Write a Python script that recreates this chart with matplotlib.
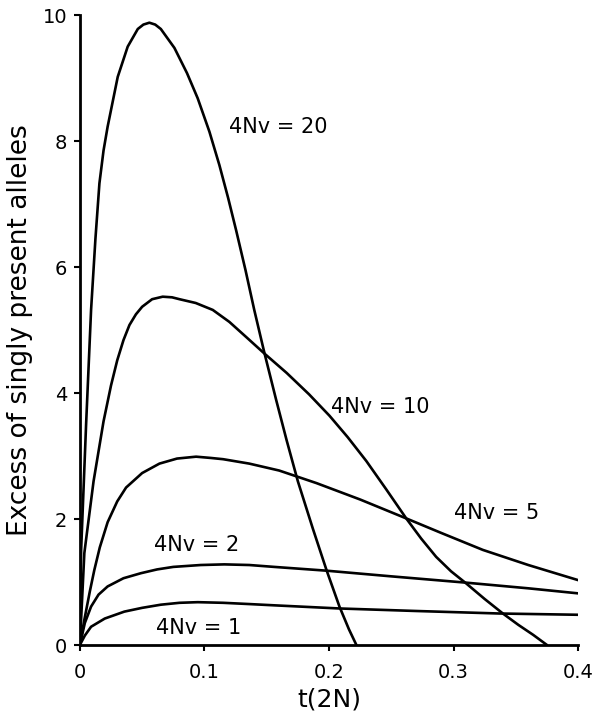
import matplotlib.pyplot as plt

# values: t in units of 2N, y = excess of singly present alleles
t20 = [0, 0.001, 0.005, 0.009, 0.0125, 0.0157, 0.019, 0.0223, 0.0304, 0.0384, 0.0465, 0.051, 0.0558, 0.0605,
       0.065, 0.0759, 0.086, 0.0946, 0.104, 0.112, 0.119, 0.1255, 0.133, 0.140, 0.148, 0.1576, 0.166, 0.175,
       0.187, 0.198, 0.2084, 0.216, 0.222]
y20 = [0, 1.5, 3.5, 5.32, 6.45, 7.33, 7.85, 8.23, 9.02, 9.5, 9.78, 9.85, 9.88, 9.85,
       9.78, 9.48, 9.08, 8.68, 8.15, 7.62, 7.1, 6.58, 5.95, 5.32, 4.65, 3.89, 3.25, 2.6,
       1.85, 1.19, 0.61, 0.25, 0.0]

t10 = [0, 0.0036, 0.011, 0.019, 0.025, 0.030, 0.035, 0.0398, 0.045, 0.05, 0.058, 0.0665, 0.074, 0.080,
       0.093, 0.1067, 0.12, 0.1335, 0.148, 0.166, 0.184, 0.2004, 0.215, 0.23, 0.246, 0.262, 0.274, 0.286,
       0.298, 0.310, 0.325, 0.3396, 0.352, 0.364, 0.375]
y10 = [0, 1.46, 2.6, 3.55, 4.12, 4.52, 4.84, 5.08, 5.25, 5.37, 5.49, 5.53, 5.52, 5.49,
       5.43, 5.32, 5.13, 4.89, 4.63, 4.32, 3.98, 3.64, 3.30, 2.92, 2.47, 2.01, 1.69, 1.40,
       1.17, 0.98, 0.73, 0.50, 0.32, 0.16, 0.0]

t5 = [0, 0.0036, 0.008, 0.0116, 0.016, 0.0223, 0.03, 0.0371, 0.05, 0.0639, 0.078, 0.0933, 0.105, 0.115,
      0.136, 0.16, 0.19, 0.225, 0.262, 0.29, 0.3235, 0.36, 0.4]
y5 = [0, 0.40, 0.85, 1.19, 1.55, 1.95, 2.28, 2.5, 2.73, 2.88, 2.96, 2.99, 2.97, 2.95,
      2.88, 2.77, 2.57, 2.31, 2.01, 1.78, 1.51, 1.27, 1.03]

t2 = [0, 0.004, 0.009, 0.015, 0.0223, 0.035, 0.049, 0.062, 0.075, 0.097, 0.116, 0.136, 0.156, 0.198,
      0.25, 0.31, 0.36, 0.4]
y2 = [0, 0.35, 0.61, 0.8, 0.93, 1.06, 1.14, 1.2, 1.24, 1.27, 1.28, 1.27, 1.24, 1.18,
      1.09, 0.99, 0.9, 0.82]

t1 = [0, 0.004, 0.009, 0.02, 0.0357, 0.05, 0.065, 0.08, 0.0946, 0.115, 0.136, 0.156, 0.2084, 0.27, 0.337, 0.4]
y1 = [0, 0.15, 0.29, 0.42, 0.53, 0.59, 0.64, 0.67, 0.68, 0.67, 0.65, 0.63, 0.58, 0.54, 0.50, 0.48]

curves = [(t20, y20), (t10, y10), (t5, y5), (t2, y2), (t1, y1)]
labels = ["4Nv = 20", "4Nv = 10", "4Nv = 5", "4Nv = 2", "4Nv = 1"]
label_pos = [(0.120, 8.22), (0.2017, 3.78), (0.300, 2.10), (0.0598, 1.59), (0.0612, 0.27)]

xticks = [0, 0.1, 0.2, 0.3, 0.4]
xticklabels = ["0", "0.1", "0.2", "0.3", "0.4"]
yticks = [0, 2, 4, 6, 8, 10]

plt.rcParams['font.family'] = ['DejaVu Sans']

fig = plt.figure(figsize=(5.96, 7.21), dpi=100)
ax = fig.add_axes([0.134, 0.1054, 0.836, 0.8736])

for t, y in curves:
    ax.plot(t, y, color='black', lw=1.9, solid_joinstyle='round', solid_capstyle='round')

for lab, (x, y) in zip(labels, label_pos):
    ax.text(x, y, lab, fontsize=15, ha='left', va='center')

ax.set_xlim(0, 0.4)
ax.set_ylim(0, 10)
ax.set_xticks(xticks)
ax.set_xticklabels(xticklabels)
ax.set_yticks(yticks)
ax.tick_params(direction='out', length=4, width=1.5, labelsize=14)
ax.tick_params(axis='x', pad=9)
ax.tick_params(axis='y', pad=5)
for s in ['top', 'right']:
    ax.spines[s].set_visible(False)
for s in ['left', 'bottom']:
    ax.spines[s].set_linewidth(2)

ax.set_xlabel("t(2N)", fontsize=18, labelpad=4)
ax.set_ylabel("Excess of singly present alleles", fontsize=19, labelpad=7)

fig.savefig("out.png", dpi=100)
